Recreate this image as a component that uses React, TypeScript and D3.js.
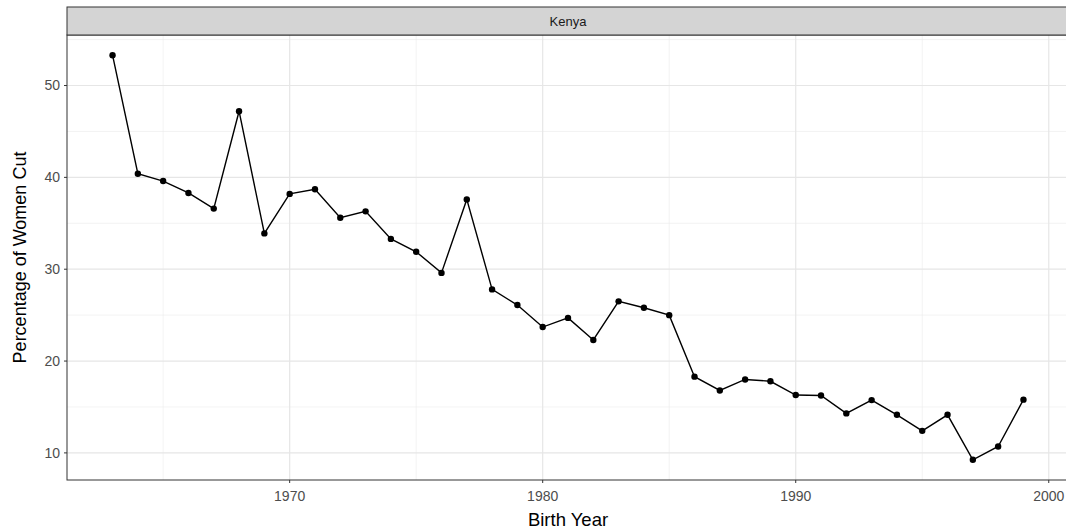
import React from "react";
import * as d3 from "d3";

const years = [1963,1964,1965,1966,1967,1968,1969,1970,1971,1972,1973,1974,1975,1976,1977,1978,1979,1980,1981,1982,1983,1984,1985,1986,1987,1988,1989,1990,1991,1992,1993,1994,1995,1996,1997,1998,1999];
const pctCut = [53.3,40.4,39.6,38.3,36.6,47.2,33.9,38.2,38.7,35.6,36.3,33.3,31.9,29.6,37.6,27.8,26.1,23.7,24.7,22.3,26.5,25.8,25.0,18.3,16.8,18.0,17.8,16.3,16.25,14.3,15.75,14.15,12.4,14.15,9.25,10.7,15.8];
const xTicks = [1970,1980,1990,2000];
const xMinor = [1965,1975,1985,1995];
const yTicks = [10,20,30,40,50];
const yMinor = [15,25,35,45,55];
const facetLabel = "Kenya";

export default function App() {
  const W = 1066, H = 532;
  const left = 67, right = 1069, top = 35, bottom = 480;
  const stripTop = 7;
  const x = d3.scaleLinear().domain([1961.2, 2000.8]).range([left, right]);
  const y = d3.scaleLinear().domain([7.05, 55.5]).range([bottom, top]);
  const pts = years.map((yr, i) => [yr, pctCut[i]] as [number, number]);
  const line = d3.line<[number, number]>().x(d => x(d[0])).y(d => y(d[1]));
  const font = "Liberation Sans, Arial, sans-serif";
  return (
    <svg width={W} height={H} style={{ position: "absolute", left: 0, top: 0 }} fontFamily={font}>
      <rect x={0} y={0} width={W} height={H} fill="#fff" />
      <defs>
        <clipPath id="pc"><rect x={left} y={top} width={right - left} height={bottom - top} /></clipPath>
      </defs>
      <g clipPath="url(#pc)">
        {xMinor.map(v => <line key={"xm" + v} x1={x(v)} x2={x(v)} y1={top} y2={bottom} stroke="#ebebeb" strokeWidth={0.6} />)}
        {yMinor.map(v => <line key={"ym" + v} x1={left} x2={right} y1={y(v)} y2={y(v)} stroke="#ebebeb" strokeWidth={0.6} />)}
        {xTicks.map(v => <line key={"xg" + v} x1={x(v)} x2={x(v)} y1={top} y2={bottom} stroke="#e6e6e6" strokeWidth={1.2} />)}
        {yTicks.map(v => <line key={"yg" + v} x1={left} x2={right} y1={y(v)} y2={y(v)} stroke="#e6e6e6" strokeWidth={1.2} />)}
        <path d={line(pts) || ""} fill="none" stroke="#000" strokeWidth={1.4} />
        {pts.map((p, i) => <circle key={i} cx={x(p[0])} cy={y(p[1])} r={3.2} fill="#000" />)}
      </g>
      <rect x={left} y={top} width={right - left} height={bottom - top} fill="none" stroke="#333" strokeWidth={1} />
      <rect x={left} y={stripTop} width={right - left} height={top - stripTop} fill="#d4d4d4" stroke="#333" strokeWidth={1} />
      <text x={(left + right) / 2} y={(stripTop + top) / 2} dy="0.35em" textAnchor="middle" fontSize={13} fill="#1a1a1a">{facetLabel}</text>
      {yTicks.map(v => (
        <g key={"yt" + v}>
          <line x1={left - 3} x2={left} y1={y(v)} y2={y(v)} stroke="#333" strokeWidth={1} />
          <text x={left - 7} y={y(v)} dy="0.35em" textAnchor="end" fontSize={14} fill="#4d4d4d">{v}</text>
        </g>
      ))}
      {xTicks.map(v => (
        <g key={"xt" + v}>
          <line x1={x(v)} x2={x(v)} y1={bottom} y2={bottom + 3} stroke="#333" strokeWidth={1} />
          <text x={x(v)} y={bottom + 16} dy="0.35em" textAnchor="middle" fontSize={14} fill="#4d4d4d">{v}</text>
        </g>
      ))}
      <text x={(left + right) / 2} y={520} dy="0.35em" textAnchor="middle" fontSize={18.5} fill="#000">Birth Year</text>
      <text transform={`translate(20,${(top + bottom) / 2}) rotate(-90)`} dy="0.35em" textAnchor="middle" fontSize={18} fill="#000">Percentage of Women Cut</text>
    </svg>
  );
}
